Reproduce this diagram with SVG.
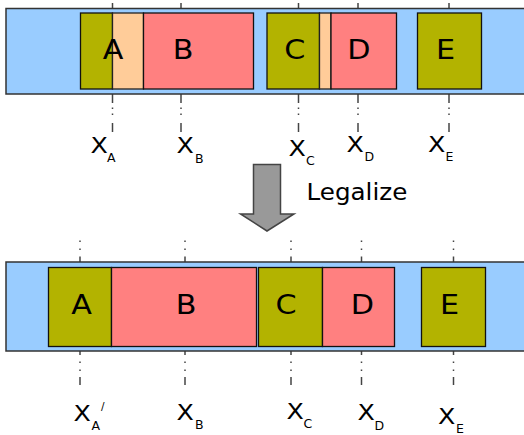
<svg xmlns="http://www.w3.org/2000/svg" width="524" height="435" viewBox="0 0 524 435">
<style>
.bar{fill:#99ccff;stroke:#333;stroke-width:1.5}
.olive{fill:#b3b300;stroke:#111;stroke-width:1.3}
.red{fill:#ff8080;stroke:#111;stroke-width:1.3}
.peach{fill:#ffcc99;stroke:#222;stroke-width:1.3}
.guide{stroke:#444;stroke-width:1.5;fill:none}
.dot{stroke:#444;stroke-width:1.5;fill:none}
.big{font-family:"DejaVu Sans",sans-serif;font-size:27px;fill:#000;text-anchor:middle}
.x{font-family:"DejaVu Sans",sans-serif;font-size:22px;fill:#000}
.sub{font-family:"DejaVu Sans",sans-serif;font-size:12.5px;fill:#000}
.prime{font-family:"DejaVu Sans",sans-serif;font-size:10.5px;fill:#000}
.lbl{font-family:"DejaVu Sans",sans-serif;font-size:23px;fill:#000}
</style>
<defs>
<g id="guideTop">
<line class="guide" x1="0" y1="3" x2="0" y2="9"/>
<line class="guide" x1="0" y1="94" x2="0" y2="103"/>
<line class="dot" x1="0" y1="107.5" x2="0" y2="109"/>
<line class="dot" x1="0" y1="113.5" x2="0" y2="115"/>
<line class="guide" x1="0" y1="123" x2="0" y2="132"/>
</g>
<g id="guideBot">
<line class="dot" x1="0" y1="240.5" x2="0" y2="242"/>
<line class="dot" x1="0" y1="248.5" x2="0" y2="250"/>
<line class="guide" x1="0" y1="256.5" x2="0" y2="263"/>
<line class="guide" x1="0" y1="350" x2="0" y2="355"/>
<line class="dot" x1="0" y1="361.5" x2="0" y2="363"/>
<line class="dot" x1="0" y1="369.5" x2="0" y2="371"/>
<line class="guide" x1="0" y1="377" x2="0" y2="385"/>
</g>
</defs>

<g id="connectors">
<use href="#guideTop" x="112.5"/>
<use href="#guideTop" x="181"/>
<use href="#guideTop" x="298.5"/>
<use href="#guideTop" x="358"/>
<use href="#guideTop" x="449"/>
<use href="#guideBot" x="80"/>
<use href="#guideBot" x="185"/>
<use href="#guideBot" x="291"/>
<use href="#guideBot" x="361.5"/>
<use href="#guideBot" x="453.5"/>
</g>

<g id="top-row">
<rect class="bar" x="6" y="8.5" width="530" height="85.5"/>
</g>
<g id="top-A">
<rect class="olive" x="80.5" y="13" width="32" height="76"/>
</g>
<g id="top-overlap-AB">
<rect class="peach" x="112.5" y="13" width="31" height="76"/>
</g>
<g id="top-B">
<rect class="red" x="143.5" y="13" width="110" height="76"/>
<text class="big" transform="translate(183,59) scale(1.12,1)">B</text>
</g>
<g id="top-A-label">
<text class="big" transform="translate(113,59) scale(1.12,1)">A</text>
</g>
<g id="top-C">
<rect class="olive" x="267" y="13" width="52.5" height="76"/>
<text class="big" transform="translate(294.7,59) scale(1.12,1)">C</text>
</g>
<g id="top-overlap-CD">
<rect class="peach" x="319.5" y="13" width="11.5" height="76"/>
</g>
<g id="top-D">
<rect class="red" x="331" y="13" width="65.5" height="76"/>
<text class="big" transform="translate(359,59) scale(1.12,1)">D</text>
</g>
<g id="top-E">
<rect class="olive" x="417.5" y="13" width="64" height="76"/>
<text class="big" transform="translate(445.5,59) scale(1.12,1)">E</text>
</g>

<g id="top-labels">
<text class="x" transform="translate(90.5,153) scale(1.15,1)">X</text><text class="sub" x="107" y="162">A</text>
<text class="x" transform="translate(176.5,153) scale(1.15,1)">X</text><text class="sub" x="195" y="162.5">B</text>
<text class="x" transform="translate(288.5,155.5) scale(1.15,1)">X</text><text class="sub" x="306" y="165">C</text>
<text class="x" transform="translate(346.5,152) scale(1.15,1)">X</text><text class="sub" x="364.5" y="161">D</text>
<text class="x" transform="translate(428,152) scale(1.15,1)">X</text><text class="sub" x="445.5" y="161">E</text>
</g>

<g id="legalize-arrow">
<path d="M253.5,164.5 H280.5 V214 H294 L267,231 L240.5,214 H253.5 Z" fill="#999999" stroke="#444" stroke-width="1.5" stroke-linejoin="miter"/>
<text class="lbl" transform="translate(306.5,200) scale(1.07,1)">Legalize</text>
</g>

<g id="bottom-row">
<rect class="bar" x="6" y="262" width="530" height="89"/>
</g>
<g id="bottom-A">
<rect class="olive" x="48.5" y="267.5" width="63" height="79"/>
<text class="big" transform="translate(81.5,314) scale(1.12,1)">A</text>
</g>
<g id="bottom-B">
<rect class="red" x="111.5" y="267.5" width="145" height="79"/>
<text class="big" transform="translate(186,314) scale(1.12,1)">B</text>
</g>
<g id="bottom-C">
<rect class="olive" x="258.5" y="267.5" width="64" height="79"/>
<text class="big" transform="translate(286,314) scale(1.12,1)">C</text>
</g>
<g id="bottom-D">
<rect class="red" x="322.5" y="267.5" width="72" height="79"/>
<text class="big" transform="translate(362.5,314) scale(1.12,1)">D</text>
</g>
<g id="bottom-E">
<rect class="olive" x="421.5" y="267.5" width="64" height="79"/>
<text class="big" transform="translate(449.5,314) scale(1.12,1)">E</text>
</g>

<g id="bottom-labels">
<text class="x" transform="translate(73.5,421) scale(1.15,1)">X</text><text class="sub" x="91.5" y="429.5">A</text><text class="prime" x="101" y="410">/</text>
<text class="x" transform="translate(176.5,419.5) scale(1.15,1)">X</text><text class="sub" x="195" y="428.5">B</text>
<text class="x" transform="translate(286.5,418.5) scale(1.15,1)">X</text><text class="sub" x="303.5" y="427.5">C</text>
<text class="x" transform="translate(357.5,420) scale(1.15,1)">X</text><text class="sub" x="374.5" y="429.5">D</text>
<text class="x" transform="translate(438,424) scale(1.15,1)">X</text><text class="sub" x="456" y="433">E</text>
</g>
</svg>
